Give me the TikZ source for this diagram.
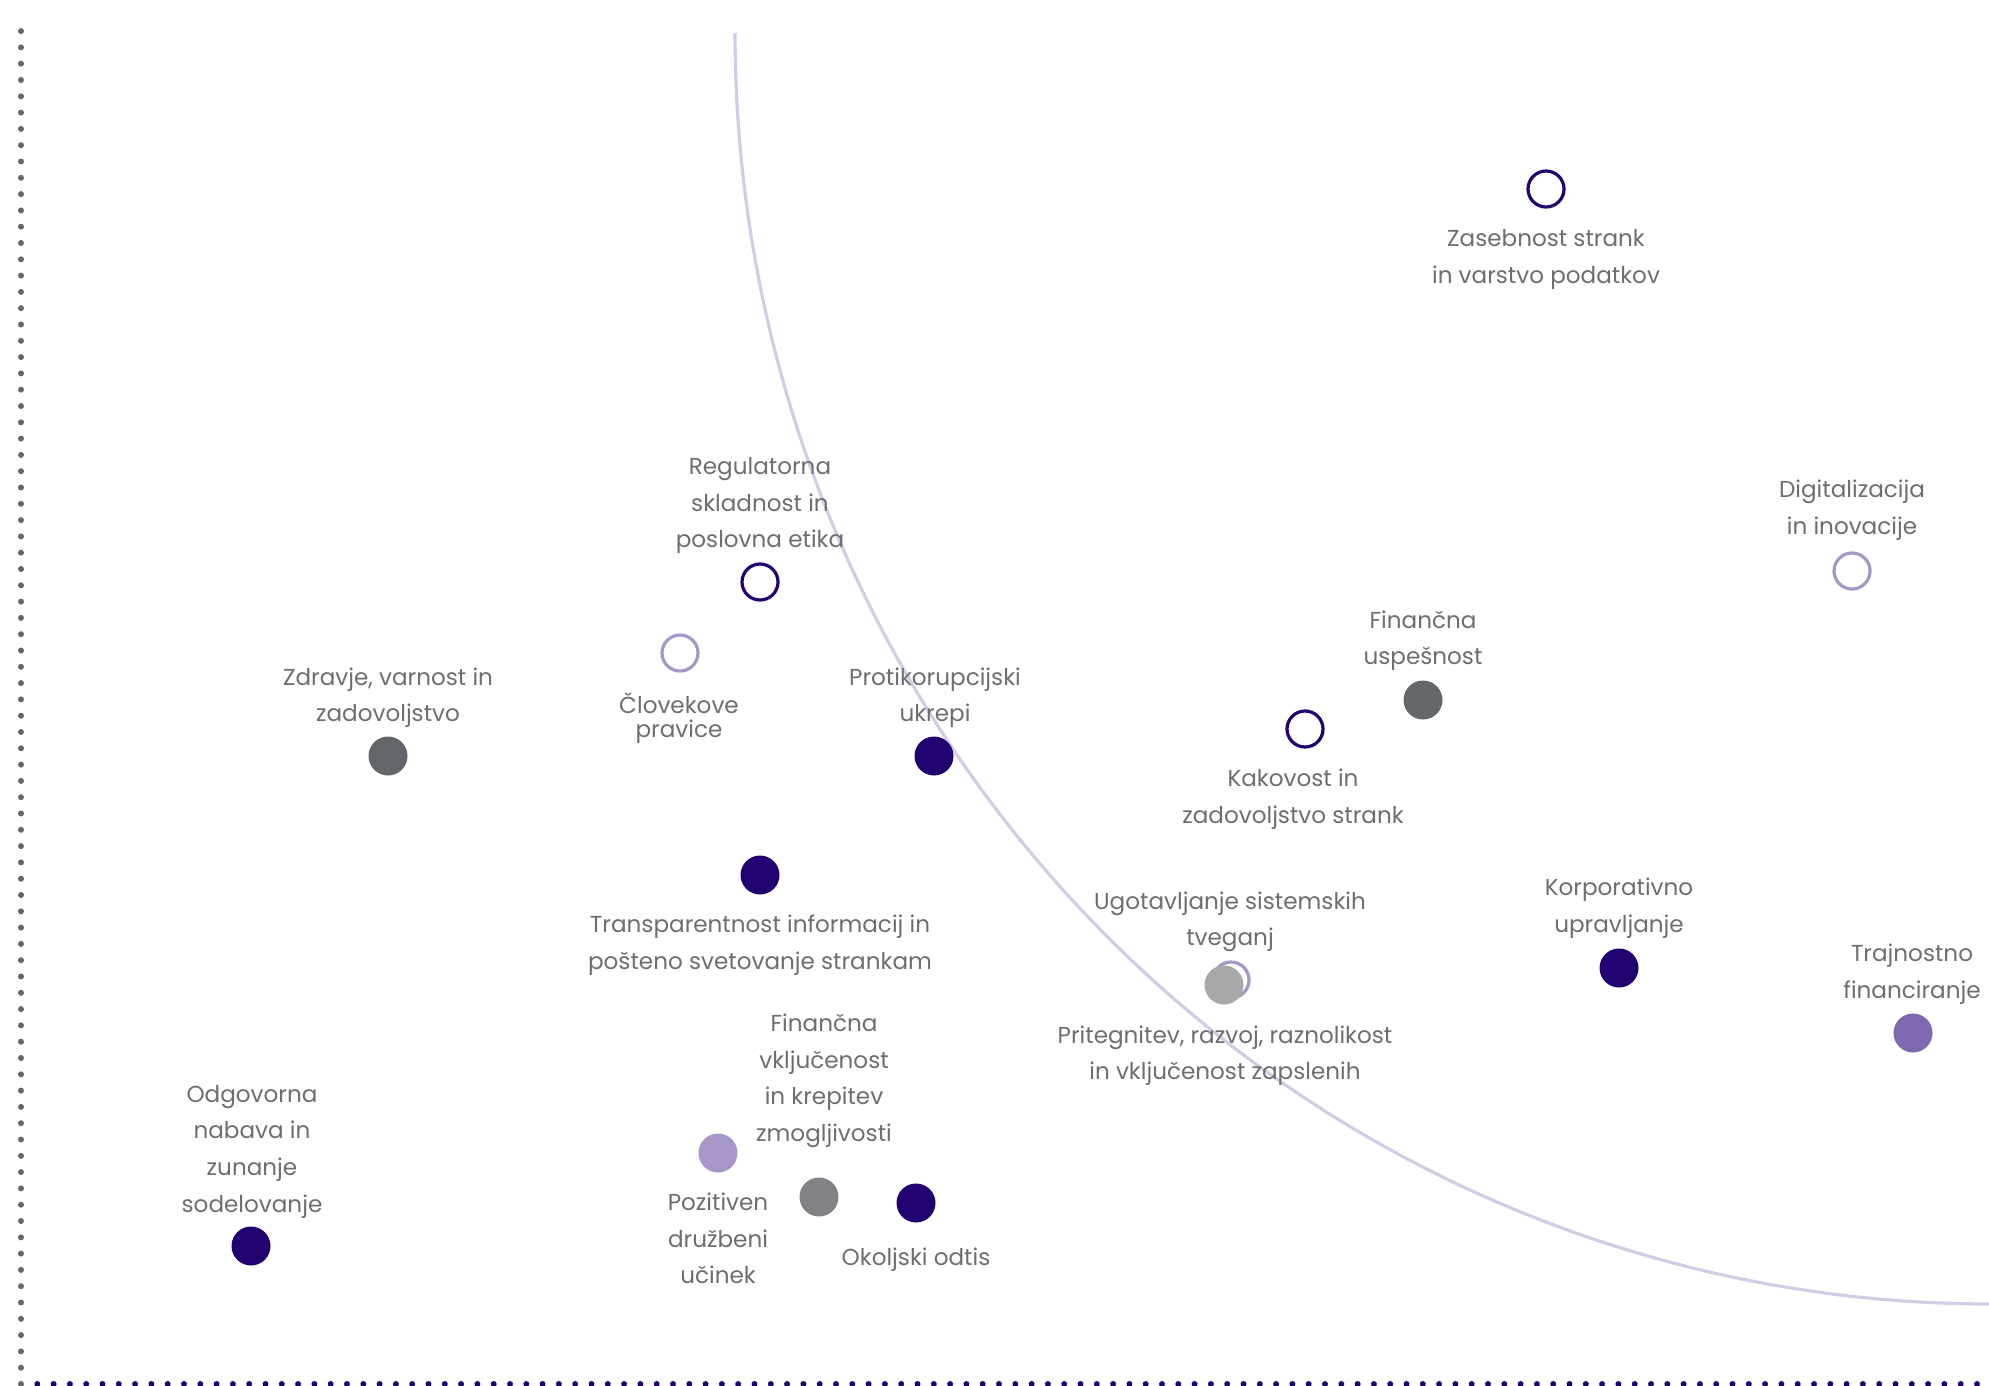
\documentclass[tikz,border=0pt]{standalone}
\usepackage{fontspec}
\setmainfont{Poppins}
\definecolor{dpurple}{HTML}{210070}
\definecolor{dgray}{HTML}{63666A}
\definecolor{mgray}{HTML}{808285}
\definecolor{lgray}{HTML}{A7A8AA}
\definecolor{lav}{HTML}{A797C9}
\definecolor{mpurple}{HTML}{7E68B0}
\definecolor{arccol}{HTML}{D4CCE6}
\definecolor{txtgray}{HTML}{6D6E71}
\tikzset{
  lbl/.style={text=txtgray, font=\fontsize{11.55}{18.3}\selectfont, align=center, inner sep=0pt, yshift=-2.6pt,
    execute at begin node=\strut, execute at end node=\strut},
  tightlbl/.style={lbl, font=\fontsize{11.55}{12}\selectfont},
  filleddot/.style={circle, minimum size=19.5pt, inner sep=0pt, fill=#1},
  opendot/.style={circle, minimum size=18pt, inner sep=0pt, draw=#1, line width=1.6pt, fill=white},
  axisdots/.style={line width=3pt, line cap=round, dash pattern=on 0pt off 8.15pt, draw=#1},
}
\begin{document}
\begin{tikzpicture}[x=0.5pt,y=-0.5pt]
\useasboundingbox (0,0) rectangle (1989,1385);
% axes
\draw[axisdots=dgray] (21,1384) -- (21,18);
\draw[axisdots=dpurple] (37.3,1384) -- (1995,1384);
% arc
\draw[arccol, line width=1.6pt, smooth, domain=90:180, samples=120]
  plot ({1989+1254*cos(\x)}, {33+1271*sin(\x)});
% dots
\node[opendot=dpurple] (d1) at (1546,189) {};
\node[opendot=lav] (d2) at (1852,571) {};
\node[opendot=dpurple] (d3) at (760,582) {};
\node[opendot=lav] (d4) at (680,653) {};
\node[filleddot=dgray] (d5) at (388,756) {};
\node[filleddot=dpurple] (d6) at (934,756) {};
\node[filleddot=dgray] (d7) at (1423,700) {};
\node[opendot=dpurple] (d8) at (1305,729) {};
\node[filleddot=dpurple] (d9) at (760,875) {};
\node[opendot=lav] (d10) at (1231,980) {};
\node[filleddot=lgray] (d11) at (1224,985) {};
\node[filleddot=dpurple] (d12) at (1619,968) {};
\node[filleddot=mpurple] (d13) at (1913,1033) {};
\node[filleddot=mgray] (d14) at (819,1197) {};
\node[filleddot=lav] (d15) at (718,1153) {};
\node[filleddot=dpurple] (d16) at (916,1203) {};
\node[filleddot=dpurple] (d17) at (251,1246) {};
% labels
\node[lbl] (t1) at (1546,256.5) {Zasebnost strank\\in varstvo podatkov};
\node[lbl] (t2) at (1852,507.5) {Digitalizacija\\in inovacije};
\node[lbl] (t3) at (760,503) {Regulatorna\\skladnost in\\poslovna etika};
\node[tightlbl] (t4) at (679,713.5) {Človekove\\pravice};
\node[lbl] (t5) at (388,695) {Zdravje, varnost in\\zadovoljstvo};
\node[lbl] (t6) at (935,695) {Protikorupcijski\\ukrepi};
\node[lbl] (t7) at (1423,638) {Finančna\\uspešnost};
\node[lbl] (t8) at (1293,796.5) {Kakovost in\\zadovoljstvo strank};
\node[lbl] (t9) at (760,942.5) {Transparentnost informacij in\\pošteno svetovanje strankam};
\node[lbl] (t10) at (1230,919) {Ugotavljanje sistemskih\\tveganj};
\node[lbl] (t11) at (1225,1053) {Pritegnitev, razvoj, raznolikost\\in vključenost zapslenih};
\node[lbl] (t12) at (1619,905.5) {Korporativno\\upravljanje};
\node[lbl] (t13) at (1912,971.5) {Trajnostno\\financiranje};
\node[lbl] (t14) at (824,1078) {Finančna\\vključenost\\in krepitev\\zmogljivosti};
\node[lbl] (t15) at (718,1238.7) {Pozitiven\\družbeni\\učinek};
\node[lbl] (t16) at (916,1253) {Okoljski odtis};
\node[lbl] (t17) at (252,1149) {Odgovorna\\nabava in\\zunanje\\sodelovanje};
\end{tikzpicture}
\end{document}
